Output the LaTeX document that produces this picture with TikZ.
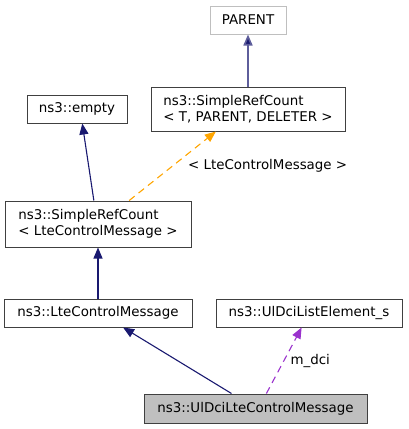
\documentclass[tikz,border=0pt]{standalone}
\usepackage{fontspec}
\setmainfont{DejaVu Sans}
\usetikzlibrary{arrows.meta}
\definecolor{midnight}{HTML}{191970}
\definecolor{orchid}{HTML}{9A32CD}
\definecolor{tplorange}{HTML}{FFA500}
\definecolor{nodegray}{HTML}{BFBFBF}

\begin{document}
\begin{tikzpicture}[x=1pt, y=-1pt,
    cls/.style={draw=black!75, fill=white, line width=1pt, inner sep=0pt,
        align=left, font=\fontsize{13.4}{16.5}\selectfont},
    inherit/.style={draw=midnight, line width=1.1pt,
        -{Triangle[length=11pt, width=9pt, fill=midnight]}},
    usage/.style={draw=orchid, line width=1.1pt, dash pattern=on 7pt off 5pt,
        -{Triangle[length=11pt, width=9pt, fill=orchid]}},
    templ/.style={draw=tplorange, line width=1.1pt, dash pattern=on 7pt off 5pt,
        -{Triangle[length=11pt, width=9pt, fill=tplorange]}},
    lbl/.style={font=\fontsize{13.4}{16}\selectfont, inner sep=0pt}]
\useasboundingbox (0,0) rectangle (408,429);
\node[cls, draw=nodegray, minimum width=76pt, minimum height=28pt] (Parent) at (248,20) {PARENT};
\node[cls, minimum width=194pt, minimum height=44pt] (RefCountT) at (248,109) {ns3::SimpleRefCount\\< T, PARENT, DELETER >};
\node[cls, minimum width=100pt, minimum height=28pt] (Empty) at (77,109) {ns3::empty};
\node[cls, minimum width=186pt, minimum height=46pt] (RefCountL) at (98,224) {ns3::SimpleRefCount\\< LteControlMessage >};
\node[cls, minimum width=188pt, minimum height=28pt] (LteMsg) at (98,313) {ns3::LteControlMessage};
\node[cls, minimum width=186pt, minimum height=28pt] (DciElem) at (309,313) {ns3::UlDciListElement\_s};
\node[cls, fill=nodegray, minimum width=223pt, minimum height=29pt] (UlDciMsg) at (255.5,408.5) {ns3::UlDciLteControlMessage};
    \draw[inherit, draw=midnight!70, line width=1.6pt] (RefCountT.north) -- (Parent.south);
    \draw[inherit] (RefCountL.100) -- (Empty.-70);
    \draw[templ] (RefCountL.37.5) -- (RefCountT.215)
        node [lbl, midway, anchor=west, xshift=15pt] {< LteControlMessage >};
    \draw[inherit] (LteMsg.north) -- (RefCountL.south);
    \draw[inherit] (UlDciMsg.148) -- (LteMsg.-30);
    \draw[usage] (UlDciMsg.54) -- (DciElem.243)
        node [lbl, midway, anchor=west, xshift=6pt] {m\_dci};
\end{tikzpicture}
\end{document}
